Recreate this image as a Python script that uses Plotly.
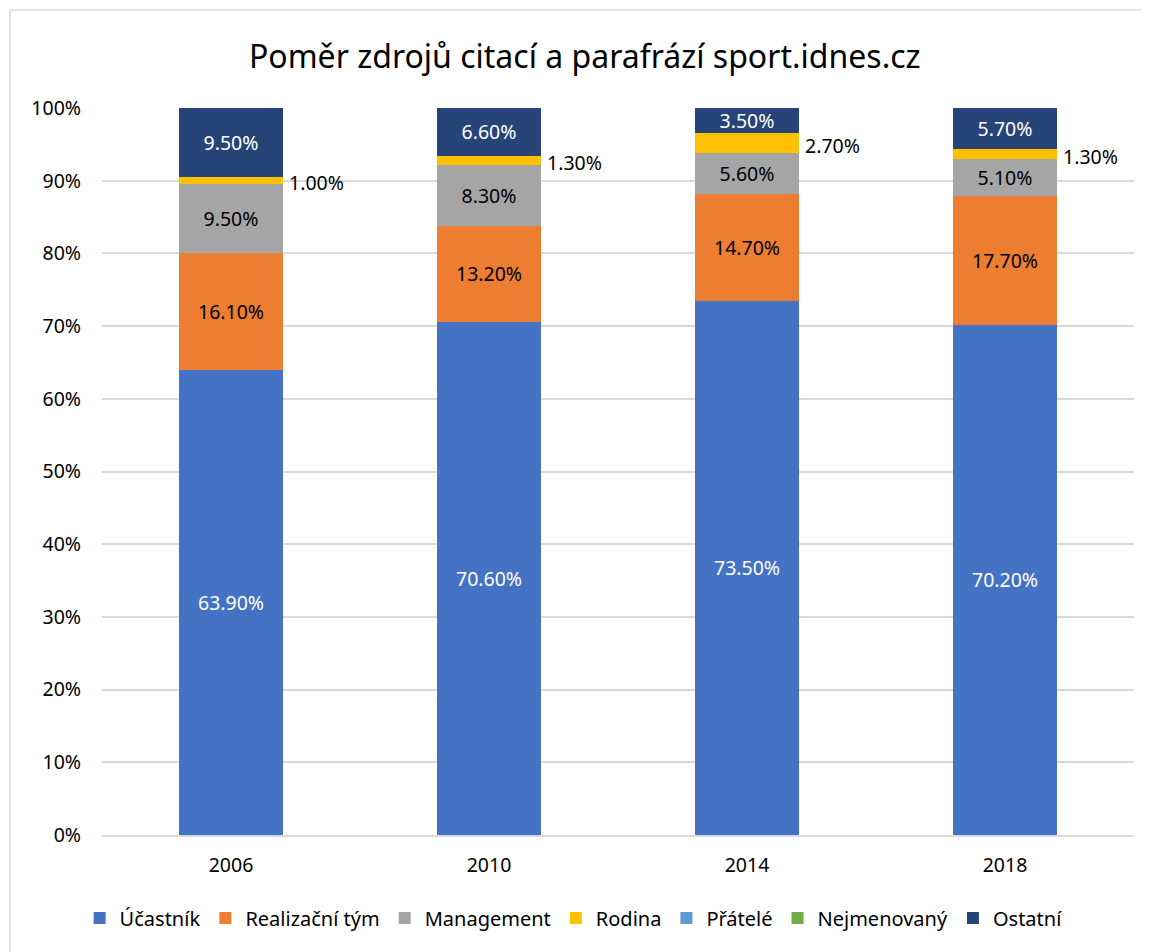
import plotly.graph_objects as go

# data
years = ["2006", "2010", "2014", "2018"]
ucastnik = [63.9, 70.6, 73.5, 70.2]
realizacni_tym = [16.1, 13.2, 14.7, 17.7]
management = [9.5, 8.3, 5.6, 5.1]
rodina = [1.0, 1.3, 2.7, 1.3]
pratele = [0, 0, 0, 0]
nejmenovany = [0, 0, 0, 0]
ostatni = [9.5, 6.6, 3.5, 5.7]

series = [
    ("Účastník", ucastnik, "#4472c4", "white", True),
    ("Realizační tým", realizacni_tym, "#ed7d31", "black", True),
    ("Management", management, "#a5a5a5", "black", True),
    ("Rodina", rodina, "#ffc000", "black", False),
    ("Přátelé", pratele, "#5b9bd5", "black", False),
    ("Nejmenovaný", nejmenovany, "#70ad47", "black", False),
    ("Ostatní", ostatni, "#264478", "white", True),
]

font = "Noto Sans"
fig = go.Figure()
for name, vals, color, tcolor, show in series:
    fig.add_trace(go.Bar(
        x=years, y=vals, name=name,
        marker=dict(color=color, line=dict(width=0)),
        texttemplate="%{y:.2f}%" if show else None,
        textposition="inside" if show else "none",
        insidetextanchor="middle",
        textangle=0,
        constraintext="none",
        textfont=dict(color=tcolor, size=19.5, family=font),
    ))

# Rodina labels sit to the right of the bars (category index on x)
for i, yr in enumerate(years):
    base = ucastnik[i] + realizacni_tym[i] + management[i]
    fig.add_annotation(
        x=i, y=base + rodina[i] / 2, text=f"{rodina[i]:.2f}%",
        showarrow=False, xanchor="left", xshift=56, yshift=-2,
        font=dict(size=19.5, color="black", family=font),
    )

# chart border
fig.add_shape(type="rect", xref="paper", yref="paper",
              x0=-0.0891, x1=1.0136, y0=-0.17, y1=1.1348,
              line=dict(color="#d9d9d9", width=1.5), layer="below")

fig.update_layout(
    width=1149, height=952,
    barmode="stack", bargap=0.6,
    paper_bgcolor="white", plot_bgcolor="white",
    margin=dict(l=94, r=23, t=100, b=125),
    font=dict(family=font, size=19, color="black"),
    title=dict(text="Poměr zdrojů citací a parafrází sport.idnes.cz",
               x=0.502, xanchor="center", y=0.9485, yanchor="middle",
               font=dict(size=32, color="black", family=font)),
    uniformtext=dict(mode=False),
    yaxis=dict(range=[0, 100], dtick=10, ticksuffix="%",
               gridcolor="#d9d9d9", gridwidth=1.5, zeroline=False,
               showline=False, tickfont=dict(size=19.5), ticks="",
               ticklabelstandoff=20),
    xaxis=dict(type="category", showline=True, linecolor="#d9d9d9",
               linewidth=1.5, tickfont=dict(size=19.5), ticks="",
               ticklabelstandoff=12, range=[-0.5, 3.5]),
    legend=dict(orientation="h", x=0.457, xanchor="center", y=-0.114,
                yanchor="middle", font=dict(size=20),
                traceorder="normal", itemwidth=30),
    showlegend=True,
)

fig.write_html("out.html")
